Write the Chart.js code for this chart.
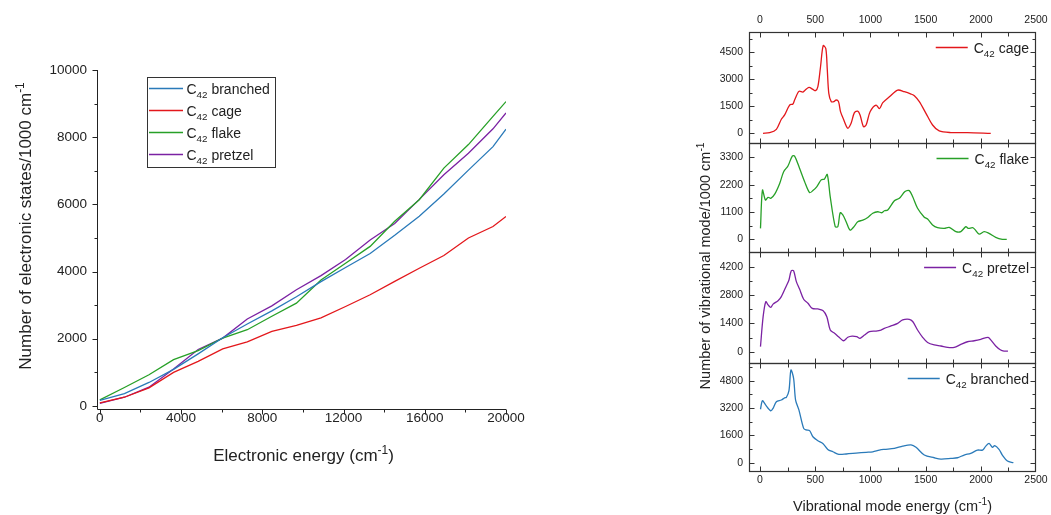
<!DOCTYPE html>
<html>
<head>
<meta charset="utf-8">
<title>C42 density of states</title>
<script src="https://cdn.jsdelivr.net/npm/chart.js@4.4.1/dist/chart.umd.min.js"></script>
<style>
  body { margin: 0; background: #fff; }
  #wrap { position: relative; width: 1051px; height: 515px; }
  #wrap canvas { position: absolute; left: 0; top: 0; }
</style>
</head>
<body>
<div id="wrap">
  <canvas id="elec" width="1051" height="515"></canvas>
  <canvas id="vibCage" width="1051" height="515"></canvas>
  <canvas id="vibFlake" width="1051" height="515"></canvas>
  <canvas id="vibPretzel" width="1051" height="515"></canvas>
  <canvas id="vibBranched" width="1051" height="515"></canvas>
</div>
<script>
// ---- left panel: electronic states ----
const elecEnergy   = [0, 1210, 2420, 3630, 4840, 6050, 7260, 8470, 9680, 10890, 12100, 13310, 14520, 15730, 16940, 18150, 19360, 20000];
const elecBranched = [170, 370, 700, 1090, 1550, 2030, 2440, 2830, 3250, 3700, 4120, 4540, 5080, 5650, 6310, 7020, 7720, 8240];
const elecCage     = [90, 260, 540, 1000, 1330, 1700, 1910, 2220, 2400, 2620, 2960, 3310, 3710, 4100, 4480, 5000, 5340, 5640];
const elecFlake    = [180, 550, 930, 1380, 1650, 2020, 2270, 2670, 3060, 3750, 4250, 4750, 5500, 6140, 7080, 7780, 8620, 9060];
const elecPretzel  = [80, 260, 560, 1100, 1680, 2020, 2590, 2980, 3460, 3880, 4360, 4940, 5430, 6150, 6880, 7520, 8250, 8720];
const elecXTicks = [0, 4000, 8000, 12000, 16000, 20000];
const elecXMinor = [2000, 6000, 10000, 14000, 18000];
const elecYTicks = [0, 2000, 4000, 6000, 8000, 10000];
const elecYMinor = [1000, 3000, 5000, 7000, 9000];

// ---- right panels: vibrational modes ----
const vibXTicks = [0, 500, 1000, 1500, 2000, 2500];
const vibXMinor = [250, 750, 1250, 1750, 2250];

const cageVibX = [27, 87, 148, 193, 223, 268, 298, 313, 352, 388, 403, 443, 479, 503, 524, 548, 572, 596, 609, 623, 645, 669, 690, 711, 729, 756, 795, 825, 855, 885, 906, 937, 961, 997, 1051, 1081, 1112, 1172, 1247, 1307, 1368, 1398, 1443, 1503, 1563, 1623, 1729, 1879, 2090];
const cageVibY = [0, 30, 220, 780, 1020, 1570, 1630, 1850, 2330, 2290, 2370, 2550, 2440, 2370, 2590, 3700, 4870, 4700, 3560, 2220, 1760, 1760, 1850, 1760, 1200, 780, 280, 560, 1150, 1230, 1020, 370, 460, 1200, 1570, 1370, 1700, 2030, 2400, 2310, 2180, 2090, 1760, 1110, 460, 130, 40, 40, 0];
const cageYTicks = [0, 1500, 3000, 4500];
const cageYMinor = [750, 2250, 3750, 5250];

const flakeVibX = [4, 22, 49, 73, 97, 133, 178, 214, 253, 292, 313, 358, 404, 449, 479, 515, 554, 584, 609, 636, 681, 705, 726, 750, 780, 816, 855, 885, 931, 976, 1021, 1066, 1105, 1126, 1157, 1217, 1262, 1313, 1352, 1383, 1427, 1488, 1518, 1563, 1608, 1669, 1714, 1774, 1819, 1865, 1886, 1925, 1946, 1985, 2030, 2075, 2135, 2195, 2235];
const flakeVibY = [440, 1980, 1580, 1690, 1650, 1820, 2250, 2720, 2950, 3350, 3350, 2860, 2320, 1880, 1960, 2120, 2390, 2430, 2610, 1710, 510, 510, 1070, 980, 710, 370, 530, 710, 770, 880, 1050, 1110, 1070, 1150, 1180, 1550, 1650, 1920, 1960, 1710, 1250, 890, 820, 580, 470, 440, 480, 310, 310, 510, 440, 470, 400, 210, 310, 240, 80, 0, 0];
const flakeYTicks = [0, 1100, 2200, 3300];
const flakeYMinor = [550, 1650, 2750, 3850];

const pretzelVibX = [4, 28, 52, 73, 97, 118, 163, 193, 238, 262, 283, 304, 329, 359, 395, 434, 473, 524, 569, 605, 636, 675, 711, 756, 795, 834, 876, 906, 946, 991, 1051, 1096, 1126, 1187, 1247, 1292, 1352, 1383, 1427, 1473, 1518, 1578, 1639, 1699, 1759, 1819, 1879, 1940, 2000, 2066, 2090, 2135, 2180, 2210, 2246];
const pretzelVibY = [250, 1730, 2470, 2310, 2190, 2350, 2520, 2720, 3250, 3540, 4000, 4000, 3460, 3080, 2590, 2390, 2140, 2110, 2030, 1730, 1070, 910, 740, 540, 710, 770, 740, 660, 820, 990, 1020, 1070, 1150, 1270, 1400, 1570, 1600, 1490, 1070, 710, 450, 330, 280, 210, 210, 360, 490, 540, 610, 710, 580, 280, 80, 30, 30];
const pretzelYTicks = [0, 1400, 2800, 4200];
const pretzelYMinor = [700, 2100, 3500, 4900];

const branchedVibX = [4, 22, 52, 97, 118, 148, 193, 223, 238, 262, 280, 304, 322, 352, 395, 419, 449, 479, 524, 569, 614, 660, 714, 780, 870, 961, 1021, 1081, 1126, 1217, 1292, 1368, 1413, 1488, 1578, 1639, 1729, 1789, 1849, 1909, 1970, 2015, 2045, 2075, 2105, 2126, 2165, 2195, 2241, 2295];
const branchedVibY = [3130, 3630, 3370, 3040, 3180, 3570, 3670, 3800, 3820, 4220, 5430, 4940, 3670, 3090, 2010, 1920, 1880, 1520, 1290, 1130, 780, 640, 490, 510, 560, 610, 640, 740, 780, 840, 970, 1040, 900, 450, 290, 210, 250, 290, 450, 550, 740, 740, 970, 1130, 900, 1000, 780, 450, 100, 0];
const branchedYTicks = [0, 1600, 3200, 4800];
const branchedYMinor = [800, 2400, 4000, 5600];

const FONT = '"Liberation Sans", Arial, sans-serif';
const INK = '#222';
const COLORS = { branched: '#2a7ab9', cage: '#e3171b', flake: '#27a027', pretzel: '#7b22a3' };

Chart.defaults.font.family = FONT;
Chart.defaults.color = INK;

// text with sub/superscripts: parts = [[text, ''|'sub'|'sup'], ...], y is the baseline
function drawRich(ctx, parts, x, y, size, align, rot) {
  const items = parts.map(([t, m]) => {
    const s = m ? size * 0.7 : size;
    ctx.font = s + 'px ' + FONT;
    return { t, m, s, w: ctx.measureText(t).width };
  });
  const total = items.reduce((a, it) => a + it.w, 0);
  ctx.save();
  ctx.translate(x, y);
  if (rot) ctx.rotate(rot);
  ctx.fillStyle = INK;
  ctx.textAlign = 'left';
  ctx.textBaseline = 'alphabetic';
  let cx = align === 'center' ? -total / 2 : align === 'right' ? -total : 0;
  items.forEach(it => {
    ctx.font = it.s + 'px ' + FONT;
    const dy = it.m === 'sub' ? size * 0.3 : it.m === 'sup' ? -size * 0.42 : 0;
    ctx.fillText(it.t, cx, dy);
    cx += it.w;
  });
  ctx.restore();
  return total;
}
const c42 = name => [['C', ''], ['42', 'sub'], [' ' + name, '']];

function line(ctx, x1, y1, x2, y2) {
  ctx.beginPath(); ctx.moveTo(x1, y1); ctx.lineTo(x2, y2); ctx.stroke();
}
// tick marks; marks that would sit on the frame corners are skipped
function xMarks(ctx, scale, values, edge, len, lo, hi) {
  values.forEach(v => {
    const p = Math.round(scale.getPixelForValue(v)) + 0.5;
    if (lo !== undefined && (p <= lo + 1 || p >= hi - 1)) return;
    line(ctx, p, edge, p, edge + len);
  });
}
function yMarks(ctx, scale, values, edge, len, lo, hi) {
  values.forEach(v => {
    const p = Math.round(scale.getPixelForValue(v)) + 0.5;
    if (lo !== undefined && (p <= lo + 1 || p >= hi - 1)) return;
    line(ctx, edge, p, edge + len, p);
  });
}
const fixedTicks = arr => s => { s.ticks = arr.map(v => ({ value: v })); };

// ---- left chart ----
const elecSeries = [
  ['branched', elecBranched],
  ['cage', elecCage],
  ['flake', elecFlake],
  ['pretzel', elecPretzel]
];

new Chart(document.getElementById('elec'), {
  type: 'line',
  data: {
    labels: elecEnergy,
    datasets: elecSeries.map(([name, vals]) => ({
      label: 'C42 ' + name,
      data: vals.map((v, i) => ({ x: elecEnergy[i], y: v })),
      borderColor: COLORS[name],
      borderWidth: 1.3,
      pointRadius: 0,
      tension: 0,
      fill: false
    }))
  },
  options: {
    responsive: false,
    animation: false,
    events: [],
    layout: { padding: { left: 0, top: 70, right: 545, bottom: 0 } },
    plugins: { legend: { display: false }, tooltip: { enabled: false } },
    scales: {
      x: {
        type: 'linear', min: -140, max: 20000,
        grid: { display: false, drawTicks: false }, border: { display: false },
        afterBuildTicks: fixedTicks(elecXTicks),
        afterFit: s => { s.height = 106; s.paddingLeft = 0; s.paddingRight = 0; },
        ticks: { padding: 1, font: { size: 13.5 }, callback: v => String(v) }
      },
      y: {
        min: -90, max: 10000,
        grid: { display: false, drawTicks: false }, border: { display: false },
        afterBuildTicks: fixedTicks(elecYTicks),
        afterFit: s => { s.width = 97; s.paddingTop = 0; s.paddingBottom = 0; },
        ticks: { padding: 10, font: { size: 13.5 }, callback: v => String(v) }
      }
    }
  },
  plugins: [{
    id: 'elecDeco',
    afterDraw(chart) {
      const ctx = chart.ctx, a = chart.chartArea;
      const xs = chart.scales.x, ys = chart.scales.y;
      const L = Math.round(a.left) + 0.5, B = Math.round(a.bottom) + 0.5;
      ctx.save();
      ctx.strokeStyle = INK;
      ctx.lineWidth = 1;
      line(ctx, L, a.top, L, B);
      line(ctx, L, B, a.right, B);
      xMarks(ctx, xs, elecXTicks, B, 5);
      xMarks(ctx, xs, elecXMinor, B, 3);
      yMarks(ctx, ys, elecYTicks, L, -5);
      yMarks(ctx, ys, elecYMinor, L, -3);

      drawRich(ctx, [['Electronic energy (cm', ''], ['-1', 'sup'], [')', '']], (a.left + a.right) / 2 + 2, 461, 17, 'center');
      drawRich(ctx, [['Number of electronic states/1000 cm', ''], ['-1', 'sup']], 31, 226, 17, 'center', -Math.PI / 2);

      // legend
      ctx.strokeStyle = '#333';
      ctx.strokeRect(147.5, 77.5, 128, 90);
      elecSeries.forEach(([name], i) => {
        const ly = 88.5 + i * 22;
        ctx.strokeStyle = COLORS[name];
        ctx.lineWidth = 1.3;
        line(ctx, 149, ly, 183, ly);
        drawRich(ctx, c42(name), 186.5, ly + 5.5, 14, 'left');
      });
      ctx.restore();
    }
  }]
});

// ---- right stacked panels ----
function makeVib(id, name, xs, ys, yRange, yTicks, yMinor, top, bottom, axisMode, last) {
  const xPad = axisMode === 'top' ? 6 : 3;
  const xHeight = axisMode === 'top' ? top : axisMode === 'bottom' ? 515 - bottom : 0;
  return new Chart(document.getElementById(id), {
    type: 'line',
    data: {
      datasets: [{
        label: 'C42 ' + name,
        data: xs.map((x, i) => ({ x, y: ys[i] })),
        borderColor: COLORS[name],
        borderWidth: 1.3,
        pointRadius: 0,
        tension: 0.3,
        fill: false
      }]
    },
    options: {
      responsive: false,
      animation: false,
      events: [],
      layout: {
        padding: {
          left: 0, right: 15,
          top: axisMode === 'top' ? 0 : top,
          bottom: axisMode === 'bottom' ? 0 : 515 - bottom
        }
      },
      plugins: { legend: { display: false }, tooltip: { enabled: false } },
      scales: {
        x: {
          type: 'linear', min: -100, max: 2500,
          display: axisMode !== 'none',
          position: axisMode === 'top' ? 'top' : 'bottom',
          grid: { display: false, drawTicks: false }, border: { display: false },
          afterBuildTicks: fixedTicks(vibXTicks),
          afterFit: s => { s.height = xHeight; s.paddingLeft = 0; s.paddingRight = 0; },
          ticks: { padding: xPad, font: { size: 10.5 }, callback: v => String(v) }
        },
        y: {
          min: yRange[0], max: yRange[1],
          grid: { display: false, drawTicks: false }, border: { display: false },
          afterBuildTicks: fixedTicks(yTicks),
          afterFit: s => { s.width = 749; s.paddingTop = 0; s.paddingBottom = 0; },
          ticks: { padding: 6, font: { size: 10.5 }, callback: v => String(v) }
        }
      }
    },
    plugins: [{
      id: 'vibDeco',
      afterDraw(chart) {
        const ctx = chart.ctx, a = chart.chartArea;
        const sx = chart.scales.x, sy = chart.scales.y;
        const L = Math.round(a.left) + 0.5, R = Math.round(a.right) - 0.5;
        const T = Math.round(a.top) + 0.5, B = Math.round(a.bottom) + 0.5;
        ctx.save();
        ctx.strokeStyle = '#333';
        ctx.lineWidth = 1.2;
        ctx.strokeRect(L, T, R - L, B - T);
        ctx.lineWidth = 1;
        xMarks(ctx, sx, vibXTicks, T, 5, L, R);
        xMarks(ctx, sx, vibXMinor, T, 4, L, R);
        xMarks(ctx, sx, vibXTicks, B, -5, L, R);
        xMarks(ctx, sx, vibXMinor, B, -4, L, R);
        yMarks(ctx, sy, yTicks, L, 5, T, B);
        yMarks(ctx, sy, yMinor, L, 3, T, B);
        yMarks(ctx, sy, yTicks, R, -5, T, B);
        yMarks(ctx, sy, yMinor, R, -3, T, B);

        // legend, right aligned in the top right corner
        const ly = Math.round(a.top) + 15.5;
        const w = drawRich(ctx, c42(name), 1029, ly + 5.5, 14, 'right');
        ctx.strokeStyle = COLORS[name];
        ctx.lineWidth = 1.3;
        line(ctx, 1029 - w - 38, ly, 1029 - w - 6, ly);

        if (last) {
          drawRich(ctx, [['Vibrational mode energy (cm', ''], ['-1', 'sup'], [')', '']], (a.left + a.right) / 2, 511, 14.5, 'center');
          drawRich(ctx, [['Number of vibrational mode/1000 cm', ''], ['-1', 'sup']], 710, 266, 14.5, 'center', -Math.PI / 2);
        }
        ctx.restore();
      }
    }]
  });
}

makeVib('vibCage', 'cage', cageVibX, cageVibY, [-540, 5630], cageYTicks, cageYMinor, 32, 143, 'top', false);
makeVib('vibFlake', 'flake', flakeVibX, flakeVibY, [-510, 3875], flakeYTicks, flakeYMinor, 143, 252, 'none', false);
makeVib('vibPretzel', 'pretzel', pretzelVibX, pretzelVibY, [-560, 4925], pretzelYTicks, pretzelYMinor, 252, 363, 'none', false);
makeVib('vibBranched', 'branched', branchedVibX, branchedVibY, [-486, 5838], branchedYTicks, branchedYMinor, 363, 471, 'bottom', true);
</script>
</body>
</html>
